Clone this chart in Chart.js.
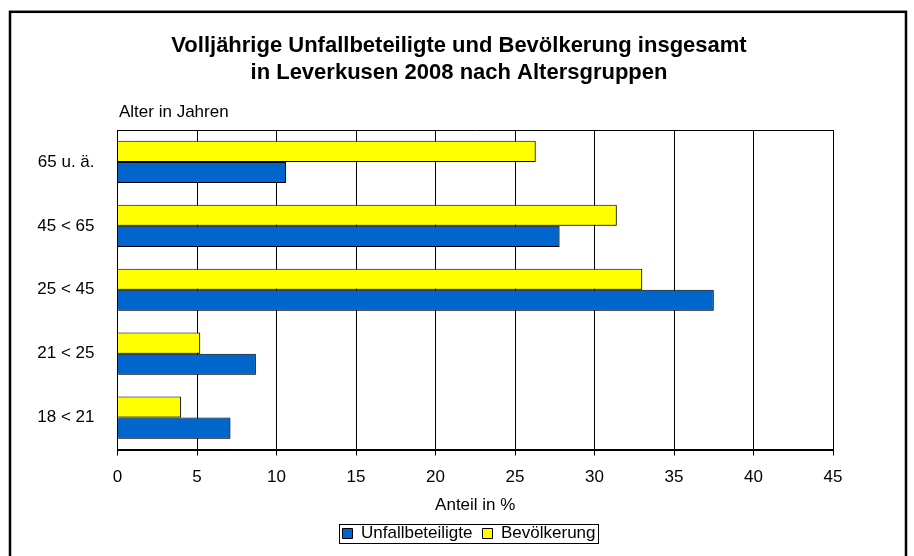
<!DOCTYPE html>
<html>
<head>
<meta charset="utf-8">
<script src="https://cdn.jsdelivr.net/npm/chart.js@4"></script>
<style>
  html, body { margin: 0; padding: 0; background: #fff; }
</style>
</head>
<body>
<canvas id="chart" width="914" height="556"></canvas>
<script>
const altersgruppen = ["65 u. ä.", "45 < 65", "25 < 45", "21 < 25", "18 < 21"];
const bevoelkerung = [26.3, 31.4, 33.0, 5.2, 4.0];
const unfallbeteiligte = [10.6, 27.8, 37.5, 8.7, 7.1];
const titelZeilen = [
  "Volljährige Unfallbeteiligte und Bevölkerung insgesamt",
  "in Leverkusen 2008 nach Altersgruppen",
];
const yAchsenTitel = "Alter in Jahren";
const xAchsenTitel = "Anteil in %";

const schrift = "'Liberation Sans', Arial, sans-serif";
Chart.defaults.font.family = schrift;
Chart.defaults.color = "#000";

// Rahmen, Titel, obere Begrenzung und Legendenkasten
const rahmenPlugin = {
  id: "rahmen",
  afterLayout(chart) {
    // Legende unter der Plotfläche zentrieren (nicht unter der ganzen Breite)
    const lg = chart.legend;
    if (lg) {
      lg.left += 52.5;
      lg.right += 52.5;
    }
  },
  beforeDraw(chart) {
    const ctx = chart.ctx;
    ctx.save();
    ctx.fillStyle = "#fff";
    ctx.fillRect(0, 0, chart.width, chart.height);
    ctx.restore();
  },
  beforeDatasetsDraw(chart) {
    const ctx = chart.ctx;
    ctx.save();
    ctx.shadowColor = "rgba(0,0,0,0.35)";
    ctx.shadowOffsetX = 1;
    ctx.shadowOffsetY = 1;
  },
  afterDatasetsDraw(chart) {
    chart.ctx.restore();
  },
  afterDraw(chart) {
    const { ctx, chartArea } = chart;
    ctx.save();
    ctx.strokeStyle = "#000";
    ctx.lineWidth = 2.5;
    ctx.strokeRect(10, 11.8, 896, 600);

    ctx.fillStyle = "#000";
    ctx.textAlign = "center";
    ctx.textBaseline = "middle";
    ctx.font = "bold 22px " + schrift;
    titelZeilen.forEach((zeile, i) => ctx.fillText(zeile, 459, 46 + i * 27));

    ctx.font = "17px " + schrift;
    ctx.textAlign = "left";
    ctx.fillText(yAchsenTitel, 119, 112);

    ctx.lineWidth = 1;
    ctx.beginPath();
    ctx.moveTo(chartArea.left, Math.round(chartArea.top) + 0.5);
    ctx.lineTo(chartArea.right, Math.round(chartArea.top) + 0.5);
    ctx.stroke();

    const boxes = chart.legend.legendHitBoxes;
    if (boxes && boxes.length) {
      const links = Math.min(...boxes.map((b) => b.left)) - 3;
      const rechts = Math.max(...boxes.map((b) => b.left + b.width)) + 3;
      const oben = Math.min(...boxes.map((b) => b.top)) - 1;
      const unten = Math.max(...boxes.map((b) => b.top + b.height)) + 1;
      ctx.strokeRect(Math.round(links) + 0.5, Math.round(oben) + 0.5, Math.round(rechts - links), Math.round(unten - oben));
    }
    ctx.restore();
  },
};

new Chart(document.getElementById("chart"), {
  type: "bar",
  data: {
    labels: altersgruppen,
    datasets: [
      {
        label: "Bevölkerung",
        data: bevoelkerung,
        backgroundColor: "#FFFF00",
        borderColor: "#000",
        borderWidth: 1,
      },
      {
        label: "Unfallbeteiligte",
        data: unfallbeteiligte,
        backgroundColor: "#0066CC",
        borderColor: "#000",
        borderWidth: 1,
      },
    ],
  },
  options: {
    indexAxis: "y",
    responsive: false,
    animation: false,
    categoryPercentage: 0.66,
    barPercentage: 1.0,
    layout: { padding: { left: 0, right: 81, top: 130, bottom: 4 } },
    scales: {
      x: {
        min: 0,
        max: 45,
        ticks: { stepSize: 5, font: { size: 17 }, color: "#000", padding: 12 },
        grid: { color: "#000", lineWidth: 1, tickLength: 6, drawTicks: true },
        border: { color: "#000", width: 2 },
        title: {
          display: true,
          text: xAchsenTitel,
          font: { size: 17 },
          color: "#000",
          padding: { top: 0, bottom: -1 },
        },
        afterFit: (scale) => {
          scale.height = 65.5;
        },
      },
      y: {
        grid: { display: false, drawTicks: false, tickLength: 0 },
        border: { display: true, color: "#000", width: 1 },
        ticks: { font: { size: 17 }, color: "#000", padding: 23 },
        afterFit: (scale) => {
          scale.width = 117.5;
        },
      },
    },
    plugins: {
      title: { display: false },
      tooltip: { enabled: false },
      legend: {
        position: "bottom",
        reverse: true,
        labels: {
          boxWidth: 10,
          boxHeight: 10,
          padding: 10,
          font: { size: 17 },
          color: "#000",
        },
      },
    },
  },
  plugins: [rahmenPlugin],
});
</script>
</body>
</html>
